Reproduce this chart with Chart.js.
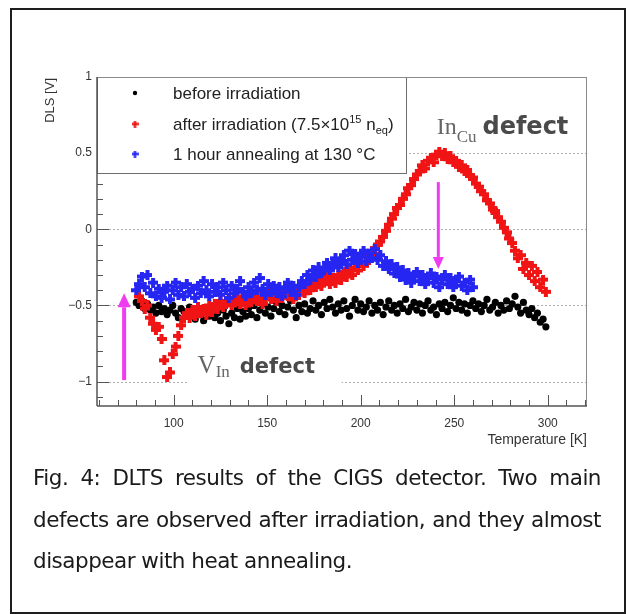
<!DOCTYPE html>
<html>
<head>
<meta charset="utf-8">
<script src="https://cdn.jsdelivr.net/npm/chart.js@4.4.1/dist/chart.umd.min.js"></script>
<style>
  body { margin: 0; background: #fff; width: 627px; height: 614px; position: relative; overflow: hidden; }
  #frame { position: absolute; left: 10px; top: 8px; width: 616px; height: 606px; box-sizing: border-box; border: 2px solid #1e1e1e; }
  #chart { position: absolute; left: 0; top: 0; }
  #caption { position: absolute; left: 33px; top: 457px; width: 568px; font-family: 'DejaVu Sans', sans-serif; font-size: 21.5px; letter-spacing: -0.5px; line-height: 41.5px; color: #1a1a1a; }
  .j { text-align: justify; text-align-last: justify; }
</style>
</head>
<body>
<div id="frame"></div>
<canvas id="chart" width="627" height="460"></canvas>
<div id="caption">
  <div class="j">Fig. 4: DLTS results of the CIGS detector. Two main</div>
  <div class="j">defects are observed after irradiation, and they almost</div>
  <div>disappear with heat annealing.</div>
</div>
<script>
// temperature scan points [K]
const temps = [
  80, 81.5, 83, 84.5, 86, 87.5, 89, 90.5, 92, 93.5,
  95, 96.5, 98, 99.5, 101, 102.5, 104, 105.5, 107, 108.5,
  110, 111.5, 113, 114.5, 116, 117.5, 119, 120.5, 122, 123.5,
  125, 126.5, 128, 129.5, 131, 132.5, 134, 135.5, 137, 138.5,
  140, 141.5, 143, 144.5, 146, 147.5, 149, 150.5, 152, 153.5,
  155, 156.5, 158, 159.5, 161, 162.5, 164, 165.5, 167, 168.5,
  170, 171.5, 173, 174.5, 176, 177.5, 179, 180.5, 182, 183.5,
  185, 186.5, 188, 189.5, 191, 192.5, 194, 195.5, 197, 198.5,
  200, 201.5, 203, 204.5, 206, 207.5, 209, 210.5, 212, 213.5,
  215, 216.5, 218, 219.5, 221, 222.5, 224, 225.5, 227, 228.5,
  230, 231.5, 233, 234.5, 236, 237.5, 239, 240.5, 242, 243.5,
  245, 246.5, 248, 249.5, 251, 252.5, 254, 255.5, 257, 258.5,
  260, 261.5, 263, 264.5, 266, 267.5, 269, 270.5, 272, 273.5,
  275, 276.5, 278, 279.5, 281, 282.5, 284, 285.5, 287, 288.5,
  290, 291.5, 293, 294.5, 296, 297.5, 299
];

// DLS signal [V]
const before = [
  -0.48, -0.50, -0.47, -0.52, -0.49, -0.53, -0.51, -0.55, -0.50, -0.54,
  -0.52, -0.56, -0.53, -0.50, -0.55, -0.58, -0.52, -0.54, -0.57, -0.51,
  -0.55, -0.59, -0.53, -0.56, -0.60, -0.54, -0.57, -0.52, -0.58, -0.55,
  -0.60, -0.53, -0.57, -0.62, -0.55, -0.58, -0.52, -0.59, -0.54, -0.57,
  -0.52, -0.56, -0.50, -0.58, -0.53, -0.49, -0.55, -0.51, -0.57, -0.52,
  -0.48, -0.54, -0.50, -0.56, -0.51, -0.47, -0.53, -0.58, -0.50, -0.54,
  -0.49, -0.55, -0.52, -0.47, -0.53, -0.50, -0.56, -0.48, -0.52, -0.46,
  -0.51, -0.55, -0.49, -0.53, -0.47, -0.52, -0.57, -0.50, -0.46, -0.53,
  -0.49, -0.54, -0.51, -0.47, -0.55, -0.50, -0.53, -0.48, -0.56, -0.51,
  -0.47, -0.53, -0.50, -0.55, -0.49, -0.52, -0.46, -0.54, -0.51, -0.48,
  -0.53, -0.49, -0.55, -0.50, -0.47, -0.53, -0.51, -0.56, -0.49, -0.52,
  -0.48, -0.54, -0.50, -0.45, -0.52, -0.48, -0.53, -0.49, -0.55, -0.50,
  -0.47, -0.52, -0.49, -0.54, -0.50, -0.46, -0.53, -0.51, -0.48, -0.55,
  -0.50, -0.53, -0.47, -0.52, -0.49, -0.44, -0.51, -0.55, -0.48, -0.53,
  -0.56, -0.52, -0.58, -0.55, -0.61, -0.59, -0.64
];
const after = [
  null, -0.44, -0.47, -0.52, -0.50, -0.58, -0.62, -0.66, -0.64, -0.72,
  -0.86, -0.97, -0.94, -0.82, -0.77, -0.70, -0.63, -0.58, -0.55, -0.58,
  -0.53, -0.57, -0.51, -0.55, -0.52, -0.56, -0.50, -0.54, -0.49, -0.52,
  -0.47, -0.51, -0.48, -0.45, -0.50, -0.47, -0.44, -0.49, -0.46, -0.50,
  -0.45, -0.48, -0.43, -0.47, -0.44, -0.49, -0.45, -0.42, -0.46, -0.43,
  -0.47, -0.42, -0.45, -0.40, -0.44, -0.41, -0.46, -0.39, -0.43, -0.40,
  -0.42, -0.37, -0.40, -0.35, -0.38, -0.33, -0.37, -0.34, -0.31, -0.36,
  -0.32, -0.35, -0.30, -0.33, -0.28, -0.31, -0.27, -0.30, -0.25, -0.27,
  -0.22, -0.24, -0.18, -0.20, -0.14, -0.16, -0.10, -0.08, -0.05, -0.01,
  0.03, 0.07, 0.10, 0.14, 0.16, 0.20, 0.23, 0.27, 0.29, 0.33,
  0.36, 0.38, 0.42, 0.40, 0.45, 0.47, 0.44, 0.49, 0.51, 0.48,
  0.50, 0.46, 0.48, 0.44, 0.45, 0.41, 0.42, 0.38, 0.39, 0.35,
  0.34, 0.30, 0.28, 0.25, 0.23, 0.19, 0.17, 0.13, 0.12, 0.08,
  0.05, 0.01, -0.02, -0.06, -0.09, -0.14, -0.19, -0.17, -0.26, -0.22,
  -0.30, -0.24, -0.34, -0.28, -0.38, -0.33, -0.41
];
const annealed = [
  -0.40, -0.36, -0.31, -0.38, -0.30, -0.42, -0.35, -0.44, -0.39, -0.45,
  -0.41, -0.37, -0.46, -0.40, -0.35, -0.43, -0.38, -0.44, -0.36, -0.41,
  -0.39, -0.45, -0.37, -0.42, -0.34, -0.40, -0.44, -0.36, -0.41, -0.38,
  -0.43, -0.35, -0.40, -0.45, -0.37, -0.42, -0.39, -0.34, -0.41, -0.44,
  -0.38, -0.42, -0.35, -0.40, -0.32, -0.39, -0.43, -0.36, -0.41, -0.37,
  -0.42, -0.38, -0.44, -0.39, -0.35, -0.41, -0.37, -0.43, -0.38, -0.34,
  -0.36, -0.30, -0.33, -0.27, -0.31, -0.25, -0.29, -0.26, -0.22, -0.27,
  -0.23, -0.19, -0.25, -0.21, -0.17, -0.23, -0.14, -0.20, -0.16, -0.22,
  -0.18, -0.14, -0.21, -0.16, -0.19, -0.13, -0.20, -0.17, -0.24, -0.21,
  -0.26, -0.23, -0.29, -0.25, -0.31, -0.27, -0.33, -0.29, -0.35, -0.31,
  -0.28, -0.34, -0.30, -0.36, -0.32, -0.29, -0.35, -0.31, -0.38, -0.33,
  -0.30, -0.36, -0.32, -0.38, -0.34, -0.31, -0.37, -0.35, -0.40, -0.33,
  -0.38
];

const seriesNames = ['before irradiation', 'after irradiation (7.5×10¹⁵ n_eq)', '1 hour annealing at 130 °C'];
const xLabels = [100, 150, 200, 250, 300];
const yLabels = [-1, -0.5, 0, 0.5, 1];
const gridValues = [-1, -0.5, 0, 0.5];

// annotation anchors in data units (T [K], DLS [V])
const upArrow = { t: 73.5, from: -0.99, to: -0.42 };
const downArrow = { t: 241.5, from: 0.31, to: -0.26 };
const vInLabel = { t: 112.8, v: -0.943 };
const inCuLabel = { t: 240.6, v: 0.627 };

const SANS = '"Liberation Sans", Arial, sans-serif';
const SERIF = '"Liberation Serif", "Times New Roman", serif';
Chart.defaults.font.family = SANS;

function plusMark(color, s, w) {
  const c = document.createElement('canvas');
  c.width = s; c.height = s;
  const g = c.getContext('2d');
  g.fillStyle = color;
  const o = (s - w) / 2;
  g.fillRect(o, 0, w, s);
  g.fillRect(0, o, s, w);
  return c;
}
const redMark = plusMark('#f01414', 10, 4);
const blueMark = plusMark('#2626f2', 10, 4);
const redSmall = plusMark('#f01414', 7, 2.4);
const blueSmall = plusMark('#2626f2', 7, 2.4);

function pts(vals) {
  return temps.map((t, i) => ({ x: t, y: vals[i] })).filter(p => p.y !== null && p.y !== undefined);
}

function fmt(v) {
  if (v === 0) return '0';
  return v < 0 ? '\u2212' + Math.abs(v) : String(v);
}

function line(ctx, x0, y0, x1, y1) {
  ctx.beginPath(); ctx.moveTo(x0, y0); ctx.lineTo(x1, y1); ctx.stroke();
}

function arrow(ctx, x0, y0, x1, y1, w, head, hw) {
  const dir = Math.sign(y1 - y0);
  ctx.strokeStyle = ctx.fillStyle = '#f03cf0';
  ctx.lineWidth = w;
  line(ctx, x0, y0, x1, y1 - dir * head);
  ctx.beginPath();
  ctx.moveTo(x1, y1);
  ctx.lineTo(x1 - hw, y1 - dir * head);
  ctx.lineTo(x1 + hw, y1 - dir * head);
  ctx.closePath();
  ctx.fill();
}

// draws pieces [text, font, dy, colour] one after the other
function runs(ctx, x, y, parts) {
  parts.forEach(p => {
    ctx.font = p[1];
    ctx.fillStyle = p[3] || ctx.fillStyle;
    ctx.fillText(p[0], x, y + p[2]);
    x += ctx.measureText(p[0]).width;
  });
  return x;
}

const decor = {
  id: 'decor',
  beforeDatasetsDraw(chart) {
    const { ctx, chartArea: a, scales: { y } } = chart;
    ctx.save();
    ctx.strokeStyle = '#b0b0b0';
    ctx.lineWidth = 1;
    ctx.setLineDash([2, 2]);
    gridValues.forEach(v => {
      const py = Math.round(y.getPixelForValue(v)) + 0.5;
      line(ctx, a.left, py, a.right, py);
    });
    ctx.restore();
  },
  afterDatasetsDraw(chart) {
    const { ctx, chartArea: a, scales: { x, y } } = chart;
    ctx.save();

    // ROOT style tick marks inside the frame
    ctx.strokeStyle = '#555';
    ctx.lineWidth = 1;
    for (let t = 60; t <= 320; t += 10) {
      const px = Math.round(x.getPixelForValue(t)) + 0.5;
      line(ctx, px, a.bottom, px, a.bottom - (t % 50 === 0 ? 11 : 6));
    }
    for (let k = -11; k <= 10; k++) {
      const py = Math.round(y.getPixelForValue(k / 10)) + 0.5;
      line(ctx, a.left, py, a.left + (k % 5 === 0 ? 12 : 6), py);
    }

    // legend box
    const lx = a.left, ly = a.top, lw = 309, lh = 96;
    ctx.fillStyle = '#fff';
    ctx.fillRect(lx, ly, lw, lh);
    ctx.strokeStyle = '#6e6e6e';
    ctx.strokeRect(lx + 0.5, ly + 0.5, lw, lh);
    const rows = [16, 47, 77];
    ctx.textBaseline = 'alphabetic';
    ctx.textAlign = 'left';
    ctx.fillStyle = '#000';
    ctx.beginPath(); ctx.arc(lx + 38, ly + rows[0], 2.2, 0, Math.PI * 2); ctx.fill();
    ctx.drawImage(redSmall, lx + 34.5, ly + rows[1] - 3.5);
    ctx.drawImage(blueSmall, lx + 34.5, ly + rows[2] - 3.5);
    const big = '17px ' + SANS, small = '11px ' + SANS;
    ctx.fillStyle = '#222';
    runs(ctx, lx + 76, ly + rows[0] + 6, [[seriesNames[0], big, 0]]);
    runs(ctx, lx + 76, ly + rows[1] + 6, [
      ['after irradiation (7.5×10', big, 0], ['15', small, -7], [' n', big, 0], ['eq', small, 4], [')', big, 0]
    ]);
    runs(ctx, lx + 76, ly + rows[2] + 6, [[seriesNames[2], big, 0]]);

    // frame
    ctx.strokeStyle = '#8a8a8a';
    ctx.lineWidth = 1;
    line(ctx, a.left, a.top + 0.5, a.right, a.top + 0.5);
    line(ctx, a.right - 0.5, a.top, a.right - 0.5, a.bottom);
    ctx.strokeStyle = '#555';
    ctx.lineWidth = 1.5;
    line(ctx, a.left, a.top, a.left, a.bottom);
    line(ctx, a.left, a.bottom, a.right, a.bottom);

    // axis titles
    ctx.fillStyle = '#333';
    ctx.font = '14px ' + SANS;
    ctx.textAlign = 'right';
    ctx.textBaseline = 'middle';
    ctx.fillText('Temperature [K]', a.right, 440);
    ctx.save();
    ctx.translate(50, a.top + 1);
    ctx.rotate(-Math.PI / 2);
    ctx.font = '13px ' + SANS;
    ctx.fillText('DLS [V]', 0, 0);
    ctx.restore();

    // arrows
    const ux = x.getPixelForValue(upArrow.t);
    arrow(ctx, ux, y.getPixelForValue(upArrow.from), ux, y.getPixelForValue(upArrow.to), 4, 14, 6.5);
    const dx = x.getPixelForValue(downArrow.t);
    arrow(ctx, dx, y.getPixelForValue(downArrow.from), dx, y.getPixelForValue(downArrow.to), 3, 12, 5.5);

    // defect labels
    ctx.textAlign = 'left';
    ctx.textBaseline = 'alphabetic';
    const vx = x.getPixelForValue(vInLabel.t), vy = y.getPixelForValue(vInLabel.v);
    ctx.fillStyle = '#fff';
    ctx.fillRect(vx - 10, vy - 35, 154, 48);
    let ex = runs(ctx, vx, vy, [['V', '25px ' + SERIF, 0, '#666'], ['In', '17px ' + SERIF, 4, '#666']]);
    runs(ctx, ex + 10, vy, [['defect', 'bold 21px "DejaVu Sans", sans-serif', 0, '#4a4a4a']]);

    const cx = x.getPixelForValue(inCuLabel.t), cy = y.getPixelForValue(inCuLabel.v);
    ex = runs(ctx, cx, cy, [['In', '24px ' + SERIF, 0, '#666'], ['Cu', '17px ' + SERIF, 8, '#666']]);
    runs(ctx, ex + 6, cy, [['defect', 'bold 24px "DejaVu Sans", sans-serif', 0, '#4a4a4a']]);

    ctx.restore();
  }
};

new Chart(document.getElementById('chart'), {
  type: 'scatter',
  data: {
    datasets: [
      { label: seriesNames[0], data: pts(before), pointStyle: 'circle', pointRadius: 3.6, backgroundColor: '#000', borderWidth: 0, order: 3 },
      { label: seriesNames[1], data: pts(after), pointStyle: redMark, order: 2 },
      { label: seriesNames[2], data: pts(annealed), pointStyle: blueMark, order: 1 }
    ]
  },
  options: {
    responsive: false,
    animation: false,
    devicePixelRatio: 1,
    layout: { padding: { left: 52, top: 77, right: 40, bottom: 14 } },
    plugins: { legend: { display: false }, tooltip: { enabled: false } },
    scales: {
      x: {
        type: 'linear', min: 59, max: 321,
        afterBuildTicks: s => { s.ticks = xLabels.map(v => ({ value: v })); },
        afterFit: s => { s.height = 40; },
        grid: { display: false, drawTicks: false },
        border: { display: false },
        ticks: { padding: 10, maxRotation: 0, color: '#333', font: { size: 12 } }
      },
      y: {
        type: 'linear', min: -1.16, max: 1,
        afterBuildTicks: s => { s.ticks = yLabels.map(v => ({ value: v })); },
        afterFit: s => { s.width = 45; },
        grid: { display: false, drawTicks: false },
        border: { display: false },
        ticks: { padding: 5, color: '#333', font: { size: 12 }, callback: v => fmt(v) }
      }
    }
  },
  plugins: [decor]
});
</script>
</body>
</html>
